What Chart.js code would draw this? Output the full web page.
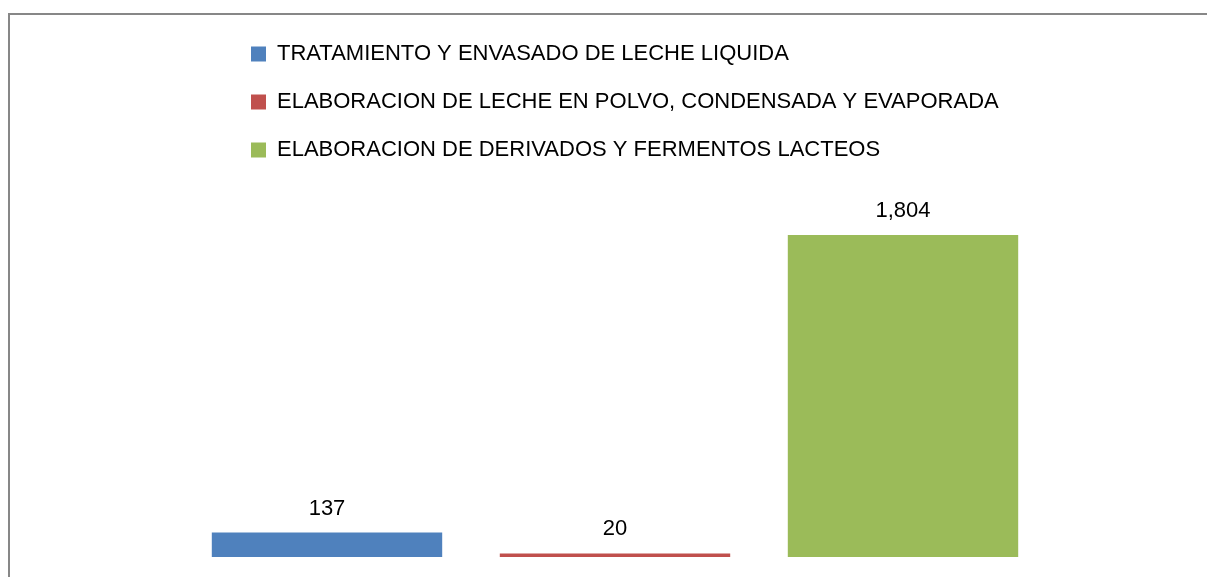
<!DOCTYPE html>
<html lang="es">
<head>
<meta charset="UTF-8">
<title>Industria lactea</title>
<script src="https://cdn.jsdelivr.net/npm/chart.js"></script>
<style>
    html, body {
        margin: 0;
        padding: 0;
        background: #ffffff;
        overflow: hidden;
    }
    .frame {
        position: absolute;
        left: 8px;
        top: 13px;
        width: 1300px;
        height: 700px;
        border-top: 2px solid #878787;
        border-left: 2px solid #878787;
    }
    .chart-box {
        position: absolute;
        left: 0;
        top: 0;
        width: 1207px;
        height: 577px;
    }
</style>
</head>
<body>
<div class="frame"></div>
<div class="chart-box">
    <canvas id="lecheChart"></canvas>
</div>

<script>
// categories / series
const categories = ['TRATAMIENTO Y ENVASADO DE LECHE LIQUIDA',
                    'ELABORACION DE LECHE EN POLVO, CONDENSADA Y EVAPORADA',
                    'ELABORACION DE DERIVADOS Y FERMENTOS LACTEOS'];
const values = [137, 20, 1804];
const colors = ['#4F81BD', '#C0504D', '#9BBB59'];

const FONT = "'Liberation Sans', Arial, sans-serif";

// one dataset per category so the legend lists each one
const datasets = categories.map((name, i) => ({
    label: name,
    data: values.map((v, j) => (j === i ? v : null)),
    backgroundColor: colors[i],
    borderWidth: 0,
    skipNull: true
}));

// move the legend block to the right, like in the original
const legendShift = {
    id: 'legendShift',
    afterLayout(chart) {
        chart.legend.left += 42;
        chart.legend.right += 42;
    }
};

// value labels over the bars
const barValues = {
    id: 'barValues',
    afterDatasetsDraw(chart) {
        const ctx = chart.ctx;
        ctx.save();
        ctx.font = '22px ' + FONT;
        ctx.fillStyle = '#000000';
        ctx.textAlign = 'center';
        ctx.textBaseline = 'middle';
        chart.data.datasets.forEach((ds, i) => {
            const meta = chart.getDatasetMeta(i);
            meta.data.forEach((bar, j) => {
                const v = ds.data[j];
                if (v === null) return;
                ctx.fillText(v.toLocaleString('en-US'), bar.x, bar.y - 24);
            });
        });
        ctx.restore();
    }
};

new Chart(document.getElementById('lecheChart'), {
    type: 'bar',
    data: {
        labels: categories,
        datasets: datasets
    },
    options: {
        responsive: true,
        maintainAspectRatio: false,
        animation: false,
        layout: {
            padding: { top: 17, bottom: 20, left: 183, right: 160 }
        },
        datasets: {
            bar: {
                grouped: false,
                categoryPercentage: 1.0,
                barPercentage: 0.8
            }
        },
        scales: {
            x: { display: false },
            y: { display: false, min: 0, max: 2162 }
        },
        plugins: {
            legend: {
                position: 'top',
                align: 'start',
                fullSize: true,
                labels: {
                    boxWidth: 15,
                    boxHeight: 15,
                    padding: 26,
                    color: '#000000',
                    font: { family: FONT, size: 22 }
                }
            },
            tooltip: { enabled: false }
        }
    },
    plugins: [legendShift, barValues]
});
</script>
</body>
</html>
